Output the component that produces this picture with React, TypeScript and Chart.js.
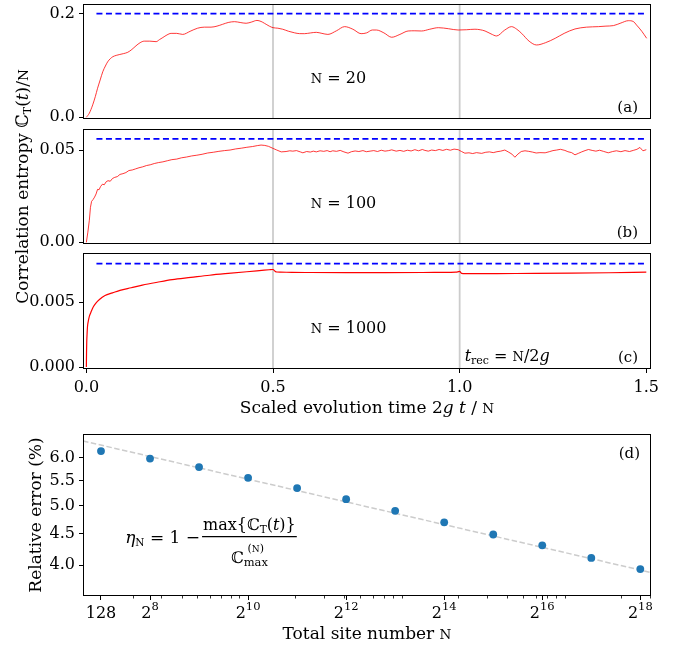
import React, { useEffect, useRef } from 'react';
import { Chart, registerables } from 'chart.js';
Chart.register(...registerables);

const W = 679;
const H = 648;
const FAM = "'DejaVu Serif', 'DejaVu Sans', serif";

// ---------- Panel (a): N = 20 ----------
const aTime = [0, 0.008, 0.017, 0.024, 0.03, 0.037, 0.044, 0.051, 0.057, 0.064, 0.071, 0.08, 0.088, 0.1, 0.111, 0.122, 0.133, 0.144, 0.155, 0.17, 0.187, 0.196, 0.205, 0.216, 0.227, 0.242, 0.258, 0.278, 0.298, 0.316, 0.334, 0.35, 0.365, 0.38, 0.397, 0.412, 0.428, 0.443, 0.457, 0.468, 0.477, 0.49, 0.5, 0.513, 0.526, 0.542, 0.558, 0.571, 0.584, 0.6, 0.616, 0.631, 0.647, 0.67, 0.692, 0.714, 0.736, 0.751, 0.766, 0.777, 0.797, 0.818, 0.84, 0.862, 0.88, 0.898, 0.92, 0.943, 0.97, 0.996, 1.018, 1.041, 1.055, 1.068, 1.084, 1.099, 1.12, 1.139, 1.153, 1.166, 1.186, 1.206, 1.23, 1.256, 1.28, 1.309, 1.34, 1.372, 1.392, 1.412, 1.432, 1.452, 1.465, 1.474, 1.488, 1.501];
const aEntropy = [0, 0.008, 0.024, 0.04, 0.056, 0.072, 0.088, 0.099, 0.107, 0.113, 0.117, 0.1195, 0.121, 0.123, 0.1255, 0.131, 0.138, 0.144, 0.147, 0.147, 0.146, 0.15, 0.154, 0.159, 0.162, 0.162, 0.16, 0.166, 0.172, 0.174, 0.174, 0.176, 0.1795, 0.183, 0.1846, 0.183, 0.1815, 0.184, 0.187, 0.185, 0.1815, 0.176, 0.173, 0.172, 0.17, 0.166, 0.163, 0.1615, 0.1614, 0.1628, 0.164, 0.162, 0.16, 0.167, 0.175, 0.17, 0.1614, 0.163, 0.1685, 0.1685, 0.163, 0.1545, 0.16, 0.1666, 0.167, 0.1666, 0.17, 0.173, 0.171, 0.1685, 0.169, 0.17, 0.169, 0.1666, 0.161, 0.157, 0.168, 0.175, 0.17, 0.162, 0.147, 0.1396, 0.144, 0.1525, 0.162, 0.1705, 0.174, 0.175, 0.176, 0.177, 0.182, 0.1865, 0.185, 0.178, 0.166, 0.1525];
const aBound = 0.2;

// ---------- Panel (b): N = 100 ----------
const bTime = [0, 0.004, 0.008, 0.011, 0.014, 0.018, 0.022, 0.026, 0.03, 0.034, 0.038, 0.043, 0.048, 0.053, 0.058, 0.064, 0.07, 0.076, 0.083, 0.09, 0.098, 0.106, 0.114, 0.123, 0.132, 0.141, 0.151, 0.161, 0.171, 0.182, 0.193, 0.205, 0.217, 0.229, 0.242, 0.255, 0.268, 0.282, 0.296, 0.31, 0.325, 0.34, 0.355, 0.37, 0.385, 0.4, 0.415, 0.43, 0.445, 0.458, 0.468, 0.478, 0.488,
  0.5, 0.51, 0.522, 0.535, 0.545, 0.553, 0.563, 0.573, 0.58, 0.59, 0.6, 0.608, 0.616, 0.626, 0.636, 0.645, 0.653, 0.66, 0.67, 0.68, 0.69, 0.701, 0.71, 0.72, 0.73, 0.741, 0.75, 0.76, 0.77, 0.78, 0.79, 0.8, 0.81, 0.818, 0.83, 0.84, 0.85, 0.86, 0.87, 0.88, 0.89, 0.9, 0.907, 0.916, 0.925, 0.935, 0.945, 0.955, 0.965, 0.975, 0.985, 0.996,
  1.005, 1.014, 1.025, 1.035, 1.045, 1.059, 1.07, 1.08, 1.09, 1.1, 1.11, 1.121, 1.13, 1.14, 1.148, 1.156, 1.165, 1.175, 1.185, 1.195, 1.205, 1.215, 1.229, 1.24, 1.25, 1.26, 1.27, 1.282, 1.29, 1.3, 1.309, 1.318, 1.327, 1.336, 1.345, 1.355, 1.365, 1.375, 1.385, 1.398, 1.41, 1.42, 1.432, 1.443, 1.455, 1.465, 1.475, 1.483, 1.491, 1.5];
const bEntropy = [0, 0.0055, 0.012, 0.019, 0.0222, 0.0232, 0.0245, 0.0262, 0.0287, 0.0285, 0.0302, 0.0315, 0.0312, 0.0328, 0.0334, 0.0331, 0.0346, 0.0352, 0.0356, 0.0368, 0.0372, 0.0378, 0.0389, 0.0392, 0.0398, 0.0404, 0.0409, 0.0416, 0.042, 0.0427, 0.0432, 0.0436, 0.0442, 0.0448, 0.0451, 0.0458, 0.0462, 0.0468, 0.0472, 0.0477, 0.0484, 0.0488, 0.0493, 0.0497, 0.05, 0.0506, 0.051, 0.0515, 0.0519, 0.0524, 0.0527, 0.0525, 0.052,
  0.0509, 0.05, 0.049, 0.0492, 0.0496, 0.0494, 0.0497, 0.049, 0.0485, 0.0492, 0.0489, 0.0494, 0.049, 0.0496, 0.0493, 0.0497, 0.0491, 0.0496, 0.0493, 0.0498, 0.049, 0.0483, 0.0491, 0.0495, 0.0492, 0.0497, 0.0491, 0.0494, 0.0497, 0.0492, 0.0499, 0.0494, 0.0497, 0.0501, 0.0494, 0.0498, 0.0493, 0.0499, 0.0495, 0.0502, 0.0496, 0.0503, 0.0498, 0.0494, 0.05, 0.0497, 0.0503, 0.0498, 0.0504, 0.0499, 0.0505, 0.0502,
  0.0492, 0.0483, 0.0485, 0.0481, 0.0486, 0.0482, 0.0488, 0.049, 0.0486, 0.0491, 0.0494, 0.05, 0.049, 0.0478, 0.0461, 0.0478, 0.0492, 0.0496, 0.0493, 0.0489, 0.0484, 0.0486, 0.0485, 0.0491, 0.0497, 0.05, 0.0504, 0.0498, 0.0491, 0.0486, 0.0474, 0.0482, 0.049, 0.0497, 0.0503, 0.0498, 0.0494, 0.0499, 0.0493, 0.0485, 0.0492, 0.0496, 0.0491, 0.0497, 0.0492, 0.0498, 0.0504, 0.0514, 0.0496, 0.0502];
const bBound = 0.056;

// ---------- Panel (c): N = 1000 ----------
const cTime = [0, 0.0005, 0.001, 0.002, 0.003, 0.005, 0.008, 0.012, 0.018, 0.025, 0.035, 0.05, 0.07, 0.09, 0.12, 0.15, 0.19, 0.23, 0.28, 0.33, 0.38, 0.43, 0.47, 0.49, 0.5, 0.505, 0.51, 0.52, 0.55, 0.6, 0.7, 0.8, 0.9, 0.95, 0.99, 1.0, 1.005, 1.01, 1.05, 1.1, 1.2, 1.3, 1.4, 1.5];
const cEntropy = [0, 0.0012, 0.0019, 0.0026, 0.0031, 0.0035, 0.0039, 0.0042, 0.0046, 0.0049, 0.0052, 0.0055, 0.0057, 0.0059, 0.0061, 0.0063, 0.00652, 0.00672, 0.00689, 0.00706, 0.0072, 0.00733, 0.00743, 0.00748, 0.0075, 0.00738, 0.00731, 0.0073, 0.00728, 0.00727, 0.00726, 0.00726, 0.00727, 0.00728, 0.0073, 0.00735, 0.0072, 0.00719, 0.00718, 0.00719, 0.0072, 0.00722, 0.00725, 0.0073];
const cBound = 0.00795;

const timeTicks = [0, 0.5, 1.0, 1.5];
const recurrenceTimes = [0.5, 1.0];

// ---------- Panel (d) ----------
const dSites = [128, 256, 512, 1024, 2048, 4096, 8192, 16384, 32768, 65536, 131072, 262144];
const dError = [6.15, 5.98, 5.79, 5.56, 5.35, 5.13, 4.91, 4.7, 4.49, 4.31, 4.11, 3.94];
const dFitSites = [99.3, 304700];
const dFitError = [6.39, 3.89];
const dMajorTicks = [128, 256, 1024, 4096, 16384, 65536, 262144];
// label base and exponent ('' = plain number)
const dMajorBase = ['128', '2', '2', '2', '2', '2', '2'];
const dMajorExp = ['', '8', '10', '12', '14', '16', '18'];
const dMinorTicks = [200, 300, 400, 500, 600, 700, 800, 900, 2000, 3000, 4000, 5000, 6000, 7000, 8000, 9000, 20000, 30000, 40000, 50000, 60000, 70000, 80000, 90000, 200000, 300000];
const dYTicks = [4.0, 4.5, 5.0, 5.5, 6.0];

// ---------- layout ----------
const PLOT_LEFT = 83;
const PLOT_RIGHT = 651;
const YW = 60;
const XH = 30;
const RED = 'rgba(255,0,0,0.78)';

type Seg = { t: string; size: number; italic?: boolean; dy?: number };
const segFont = (s: Seg) => `${s.italic ? 'italic ' : ''}${s.size}px ${FAM}`;
function richWidth(ctx: CanvasRenderingContext2D, segs: Seg[]) {
  let w = 0;
  for (const s of segs) { ctx.font = segFont(s); w += ctx.measureText(s.t).width; }
  return w;
}
function drawRich(ctx: CanvasRenderingContext2D, segs: Seg[], x: number, y: number, align: 'left' | 'center' | 'right' = 'left') {
  const w = richWidth(ctx, segs);
  let cx = align === 'center' ? x - w / 2 : align === 'right' ? x - w : x;
  ctx.save();
  ctx.fillStyle = '#000';
  ctx.textAlign = 'left';
  ctx.textBaseline = 'alphabetic';
  for (const s of segs) {
    ctx.font = segFont(s);
    ctx.fillText(s.t, cx, y + (s.dy || 0));
    cx += ctx.measureText(s.t).width;
  }
  ctx.restore();
}
function drawRotated(ctx: CanvasRenderingContext2D, segs: Seg[], bx: number, cy: number) {
  ctx.save();
  ctx.translate(bx, cy);
  ctx.rotate(-Math.PI / 2);
  drawRich(ctx, segs, 0, 0, 'center');
  ctx.restore();
}
function drawFrame(ctx: CanvasRenderingContext2D, ca: any) {
  ctx.save();
  ctx.strokeStyle = '#000';
  ctx.lineWidth = 1;
  ctx.strokeRect(Math.round(ca.left) + 0.5, Math.round(ca.top) + 0.5, Math.round(ca.right - ca.left) - 1, Math.round(ca.bottom - ca.top) - 1);
  ctx.restore();
}

const xy = (xs: number[], ys: number[]) => xs.map((x, i) => ({ x, y: ys[i] }));

const tickFont = { family: FAM, size: 16 };

function zeroPad(s: any) { s.paddingTop = 0; s.paddingBottom = 0; s.paddingLeft = 0; s.paddingRight = 0; }

interface PanelCfg {
  time: number[]; ent: number[]; bound: number; yMin: number; yMax: number; yTicks: number[]; dec: number;
  top: number; bottom: number; showX: boolean; tag: string; n: string; monotone: boolean; color: string; width: number;
}

function makeTopPanel(canvas: HTMLCanvasElement, p: PanelCfg) {
  const decor = {
    id: 'decor' + p.tag,
    afterDraw(chart: any) {
      const { ctx, chartArea: ca } = chart;
      drawFrame(ctx, ca);
      const w = ca.right - ca.left;
      const h = ca.bottom - ca.top;
      drawRich(ctx, [{ t: 'N', size: 13 }, { t: ' = ' + p.n, size: 16 }], ca.left + 0.401 * w, ca.top + 0.69 * h);
      drawRich(ctx, [{ t: '(' + p.tag + ')', size: 15 }], ca.right - 13, ca.bottom - 7, 'right');
      if (p.showX) {
        const xs = chart.scales.x;
        drawRich(ctx, [
          { t: 't', size: 16, italic: true }, { t: 'rec', size: 11, dy: 3 }, { t: ' = ', size: 16 },
          { t: 'N', size: 13 }, { t: '/2', size: 16 }, { t: 'g', size: 16, italic: true },
        ], xs.getPixelForValue(1.0) + 5, ca.bottom - 8);
        drawRich(ctx, [
          { t: 'Scaled evolution time 2', size: 17 }, { t: 'g', size: 17, italic: true }, { t: ' t', size: 17, italic: true },
          { t: ' / ', size: 17 }, { t: 'N', size: 13.5 },
        ], (ca.left + ca.right) / 2, ca.bottom + 44, 'center');
        // figure-level y label for panels (a)-(c)
        drawRotated(ctx, [
          { t: 'Correlation entropy ', size: 17 }, { t: 'ℂ', size: 17 }, { t: 'T', size: 11, dy: 3 },
          { t: '(', size: 17 }, { t: 't', size: 17, italic: true }, { t: ')/', size: 17 }, { t: 'N', size: 13.5 },
        ], 28, (4 + ca.bottom) / 2);
      }
    },
  };
  return new Chart(canvas, {
    type: 'line',
    data: {
      datasets: [
        { data: xy([0.027, 1.5], [p.bound, p.bound]), borderColor: '#0000ff', borderWidth: 1.7, borderDash: [6, 3.5], pointRadius: 0 },
        { data: xy(p.time, p.ent), borderColor: p.color, borderWidth: p.width, pointRadius: 0, cubicInterpolationMode: p.monotone ? 'monotone' : 'default', tension: 0 },
        ...recurrenceTimes.map((t) => ({ data: xy([t, t], [p.yMin, p.yMax]), borderColor: '#cccccc', borderWidth: 1.8, pointRadius: 0 })),
      ],
    } as any,
    options: {
      responsive: false,
      animation: false,
      events: [],
      layout: { autoPadding: false, padding: { left: PLOT_LEFT - YW, right: W - PLOT_RIGHT, top: p.top, bottom: H - p.bottom - (p.showX ? XH : 0) } },
      plugins: { legend: { display: false }, tooltip: { enabled: false } },
      scales: {
        x: {
          type: 'linear', min: -0.009, max: 1.5126, display: p.showX,
          afterBuildTicks: (s: any) => { s.ticks = timeTicks.map((v) => ({ value: v })); },
          afterFit: (s: any) => { s.height = p.showX ? XH : 0; zeroPad(s); },
          ticks: { font: tickFont, color: '#000', padding: 5, maxRotation: 0, autoSkip: false, callback: (v: any) => Number(v).toFixed(1) },
          grid: { drawOnChartArea: false, tickLength: 4, color: '#000', tickColor: '#000', tickWidth: 1 },
          border: { display: false },
        },
        y: {
          type: 'linear', min: p.yMin, max: p.yMax,
          afterBuildTicks: (s: any) => { s.ticks = p.yTicks.map((v) => ({ value: v })); },
          afterFit: (s: any) => { s.width = YW; zeroPad(s); },
          ticks: { font: tickFont, color: '#000', padding: 4, autoSkip: false, callback: (v: any) => Number(v).toFixed(p.dec) },
          grid: { drawOnChartArea: false, tickLength: 4, color: '#000', tickColor: '#000', tickWidth: 1 },
          border: { display: false },
        },
      },
    } as any,
    plugins: [decor],
  });
}

function makeErrorPanel(canvas: HTMLCanvasElement) {
  const top = 434;
  const bottom = 596;
  const decor = {
    id: 'decorD',
    afterDraw(chart: any) {
      const { ctx, chartArea: ca } = chart;
      drawFrame(ctx, ca);
      const xs = chart.scales.x;
      ctx.save();
      ctx.strokeStyle = '#000';
      ctx.lineWidth = 0.8;
      for (const v of dMinorTicks) {
        const px = xs.getPixelForValue(v);
        if (px < ca.left || px > ca.right) continue;
        ctx.beginPath();
        ctx.moveTo(Math.round(px) + 0.5, ca.bottom);
        ctx.lineTo(Math.round(px) + 0.5, ca.bottom + 2.5);
        ctx.stroke();
      }
      ctx.restore();
      // major tick labels with real superscripts
      dMajorTicks.forEach((v, i) => {
        const px = xs.getPixelForValue(v);
        const segs: Seg[] = [{ t: dMajorBase[i], size: 16 }];
        if (dMajorExp[i]) segs.push({ t: dMajorExp[i], size: 11.5, dy: -8 });
        drawRich(ctx, segs, px, ca.bottom + 22, 'center');
      });
      drawRich(ctx, [{ t: '(d)', size: 15 }], ca.right - 11, ca.top + 24, 'right');
      drawRich(ctx, [{ t: 'Total site number ', size: 17 }, { t: 'N', size: 13.5 }], (ca.left + ca.right) / 2, ca.bottom + 43, 'center');
      drawRotated(ctx, [{ t: 'Relative error (%)', size: 17 }], 41, (ca.top + ca.bottom) / 2);

      // formula
      const w = ca.right - ca.left;
      const h = ca.bottom - ca.top;
      const cx = ca.left + 0.293 * w;
      const by = ca.top + 0.634 * h;
      const num: Seg[] = [
        { t: 'max{', size: 16 }, { t: 'ℂ', size: 16 }, { t: 'T', size: 10.5, dy: 3 }, { t: '(', size: 16 },
        { t: 't', size: 16, italic: true }, { t: ')}', size: 16 },
      ];
      const nw = richWidth(ctx, num);
      drawRich(ctx, num, cx, by - 7, 'center');
      ctx.save();
      ctx.strokeStyle = '#000';
      ctx.lineWidth = 1.2;
      ctx.beginPath();
      ctx.moveTo(cx - nw / 2 - 1, by);
      ctx.lineTo(cx + nw / 2 + 1, by);
      ctx.stroke();
      ctx.restore();
      ctx.save();
      ctx.font = `16px ${FAM}`;
      const cw = ctx.measureText('ℂ').width;
      ctx.font = `11.5px ${FAM}`;
      const subW = ctx.measureText('max').width;
      ctx.restore();
      const dw = cw + subW;
      const dx = cx - dw / 2;
      drawRich(ctx, [{ t: 'ℂ', size: 16 }], dx, by + 26);
      drawRich(ctx, [{ t: 'max', size: 11.5 }], dx + cw, by + 29);
      drawRich(ctx, [{ t: '(', size: 11 }, { t: 'N', size: 9 }, { t: ')', size: 11 }], dx + cw + subW / 2, by + 15, 'center');
      drawRich(ctx, [
        { t: 'η', size: 17, italic: true }, { t: 'N', size: 10.5, dy: 3 }, { t: ' = 1 ', size: 17 }, { t: '−', size: 17 },
      ], cx - nw / 2 - 3, by + 6, 'right');
    },
  };
  return new Chart(canvas, {
    type: 'scatter',
    data: {
      datasets: [
        { data: xy(dSites, dError), backgroundColor: '#1f77b4', borderColor: '#1f77b4', pointRadius: 3.9, borderWidth: 0 },
        { type: 'line', data: xy(dFitSites, dFitError), borderColor: '#cccccc', borderWidth: 1.5, borderDash: [5.5, 2.5], pointRadius: 0, showLine: true },
      ],
    } as any,
    options: {
      responsive: false,
      animation: false,
      events: [],
      layout: { autoPadding: false, padding: { left: PLOT_LEFT - YW, right: W - PLOT_RIGHT, top, bottom: H - bottom - XH } },
      plugins: { legend: { display: false }, tooltip: { enabled: false } },
      scales: {
        x: {
          type: 'logarithmic', min: Math.pow(2, 6.633), max: Math.pow(2, 18.218),
          afterBuildTicks: (s: any) => { s.ticks = dMajorTicks.map((v) => ({ value: v })); },
          afterFit: (s: any) => { s.height = XH; zeroPad(s); },
          ticks: { font: tickFont, color: '#000', padding: 3, maxRotation: 0, autoSkip: false, callback: () => '' },
          grid: { drawOnChartArea: false, tickLength: 4, color: '#000', tickColor: '#000', tickWidth: 1 },
          border: { display: false },
        },
        y: {
          type: 'logarithmic', min: 3.56, max: 6.56,
          afterBuildTicks: (s: any) => { s.ticks = dYTicks.map((v) => ({ value: v })); },
          afterFit: (s: any) => { s.width = YW; zeroPad(s); },
          ticks: { font: tickFont, color: '#000', padding: 4, autoSkip: false, callback: (v: any) => Number(v).toFixed(1) },
          grid: { drawOnChartArea: false, tickLength: 4, color: '#000', tickColor: '#000', tickWidth: 1 },
          border: { display: false },
        },
      },
    } as any,
    plugins: [decor],
  });
}

const canvasStyle: React.CSSProperties = { position: 'absolute', left: 0, top: 0 };

export default function App() {
  const refA = useRef<HTMLCanvasElement>(null);
  const refB = useRef<HTMLCanvasElement>(null);
  const refC = useRef<HTMLCanvasElement>(null);
  const refD = useRef<HTMLCanvasElement>(null);

  useEffect(() => {
    const charts: Chart[] = [];
    charts.push(makeTopPanel(refA.current!, {
      time: aTime, ent: aEntropy, bound: aBound, yMin: -0.0033, yMax: 0.2187, yTicks: [0, 0.2], dec: 1,
      top: 4, bottom: 119, showX: false, tag: 'a', n: '20', monotone: true, color: RED, width: 1,
    }));
    charts.push(makeTopPanel(refB.current!, {
      time: bTime, ent: bEntropy, bound: bBound, yMin: -0.0009, yMax: 0.0614, yTicks: [0, 0.05], dec: 2,
      top: 129, bottom: 244, showX: false, tag: 'b', n: '100', monotone: false, color: RED, width: 1,
    }));
    charts.push(makeTopPanel(refC.current!, {
      time: cTime, ent: cEntropy, bound: cBound, yMin: -0.00015, yMax: 0.00877, yTicks: [0, 0.005], dec: 3,
      top: 253, bottom: 369, showX: true, tag: 'c', n: '1000', monotone: true, color: '#ff0000', width: 1.2,
    }));
    charts.push(makeErrorPanel(refD.current!));
    return () => { charts.forEach((c) => c.destroy()); };
  }, []);

  return (
    <div style={{ position: 'absolute', left: 0, top: 0, width: W, height: H, background: '#fff' }}>
      <canvas ref={refA} width={W} height={H} style={canvasStyle} />
      <canvas ref={refB} width={W} height={H} style={canvasStyle} />
      <canvas ref={refC} width={W} height={H} style={canvasStyle} />
      <canvas ref={refD} width={W} height={H} style={canvasStyle} />
    </div>
  );
}
